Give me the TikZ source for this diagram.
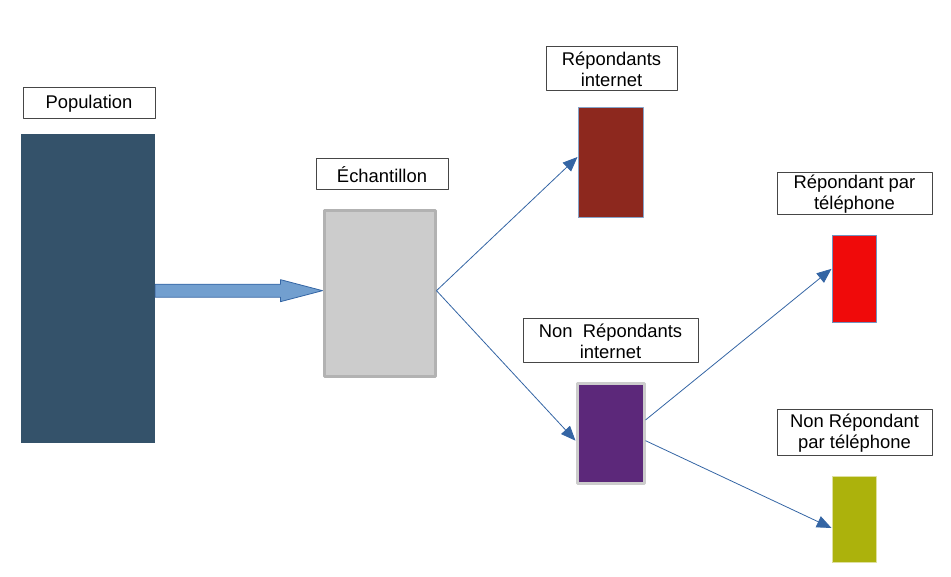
\documentclass[tikz,border=0pt]{standalone}
\usepackage{fontspec}
\setmainfont{Liberation Sans}
\usetikzlibrary{calc, arrows.meta}
\definecolor{popblue}{RGB}{52,82,106}
\definecolor{echgray}{RGB}{204,204,204}
\definecolor{echborder}{RGB}{178,178,178}
\definecolor{brickred}{RGB}{141,40,30}
\definecolor{violet}{RGB}{92,40,122}
\definecolor{brightred}{RGB}{240,10,10}
\definecolor{olive}{RGB}{172,178,12}
\definecolor{linkblue}{RGB}{52,101,164}
\definecolor{shaftblue}{RGB}{114,159,207}
\definecolor{labelgray}{RGB}{70,70,70}

\begin{document}
\begin{tikzpicture}[x=0.75pt, y=-0.75pt, line join=round,
    font=\fontsize{13.8}{15.5}\selectfont,
    label box/.style={draw=labelgray, line width=0.75pt, fill=white, align=center, inner sep=0pt},
    group/.style={rectangle, inner sep=0pt},
    link/.style={draw=linkblue, line width=0.6pt, -{Triangle[length=11pt, width=9pt]}}]
    \useasboundingbox (0,0) rectangle (951,577);

    % Groups (filled rectangles)
    \node[group, fill=popblue, minimum width=100.5pt, minimum height=231.75pt] (pop) at (88, 288.5) {};
    \node[group, fill=echgray, draw=echborder, line width=2.25pt,
          minimum width=83.25pt, minimum height=124.5pt] (ech) at (379.5, 294) {};
    \node[group, fill=brickred, draw=linkblue!60, line width=0.75pt,
          minimum width=48.75pt, minimum height=82.5pt] (repint) at (610.5, 163) {};
    \node[group, fill=violet, draw=echgray, line width=2.25pt,
          minimum width=50.25pt, minimum height=75pt] (nonrepint) at (610.5, 434) {};
    \node[group, fill=brightred, draw=linkblue!70, line width=0.75pt,
          minimum width=33pt, minimum height=65.25pt] (reptel) at (854, 279.5) {};
    \node[group, fill=olive, draw=olive!40, line width=0.75pt,
          minimum width=33pt, minimum height=64.5pt] (nonreptel) at (854, 520) {};

    % Labels
    \node[label box, minimum width=99pt, minimum height=23.25pt] (popL) at (89, 103.5) {Population};
    \node[label box, minimum width=99pt, minimum height=23.25pt] (echL) at (382, 174.5) {Échantillon};
    \node[label box, minimum width=98.25pt, minimum height=33pt] (repintL) at (611.5, 69) {Répondants\\internet};
    \node[label box, minimum width=131.25pt, minimum height=33pt] (nonrepintL) at (610.5, 341) {Non\ \ Répondants\\internet};
    \node[label box, minimum width=116.25pt, minimum height=31.5pt] (reptelL) at (854.5, 194) {Répondant par\\téléphone};
    \node[label box, minimum width=116.25pt, minimum height=34.5pt] (nonreptelL) at (854.5, 433) {Non Répondant\\par téléphone};

    % Big arrow population -> sample
    \coordinate (tip) at ([yshift=2.5]ech.west);
    \coordinate (tail) at (pop.east |- tip);
    \filldraw[fill=shaftblue, draw=linkblue, line width=0.6pt]
        ($(tail)+(0,-6.5)$) -- ($(tip)+(-42,-6.5)$) -- ($(tip)+(-42,-11)$) -- (tip)
        -- ($(tip)+(-42,11)$) -- ($(tip)+(-42,6.5)$) -- ($(tail)+(0,6.5)$) -- cycle;

    % Links
    \draw[link] ([yshift=2.5]ech.east) -- ([yshift=4.5]repint.west);
    \draw[link] ([yshift=2.5]ech.east) -- ([yshift=-5]nonrepint.west);
    \draw[link] ([yshift=10.5]nonrepint.east) -- ([yshift=8]reptel.west);
    \draw[link] ([yshift=-5]nonrepint.east) -- ([yshift=-6]nonreptel.west);
\end{tikzpicture}
\end{document}
